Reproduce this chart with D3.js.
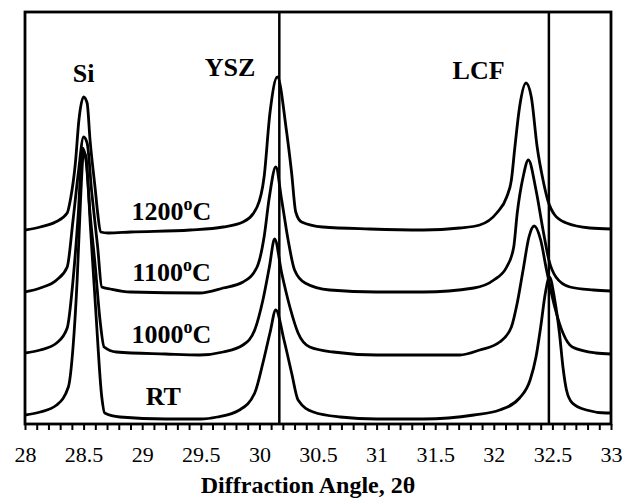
<!DOCTYPE html>
<html>
<head>
<meta charset="utf-8">
<script src="https://cdn.jsdelivr.net/npm/d3@7"></script>
<style>
  body { margin: 0; background: #fff; }
  text { font-family: "Liberation Serif", "Times New Roman", serif; }
</style>
</head>
<body>
<script>
// XRD patterns, [2theta, intensity (a.u.)]
var rtData = [[28.00,9],[28.13,12],[28.27,19],[28.37,37],[28.41,77],[28.445,144],[28.475,227],[28.50,272],[28.52,267],[28.56,194],[28.605,111],[28.655,27],[28.68,11],[28.81,7],[29.2,5],[29.5,5],[29.64,7],[29.83,14],[29.96,31],[30.03,61],[30.09,91],[30.14,114],[30.21,84],[30.275,51],[30.33,24],[30.46,12],[30.69,7],[31.0,5],[31.4,5],[31.83,9],[32.05,14],[32.22,26],[32.31,44],[32.36,67],[32.40,97],[32.44,131],[32.475,147],[32.52,124],[32.56,91],[32.59,57],[32.62,34],[32.67,21],[32.79,14],[32.96,11],[33.0,11]];
var t1000Data = [[28.00,71],[28.13,74],[28.27,81],[28.36,96],[28.41,144],[28.455,211],[28.49,276],[28.52,264],[28.555,211],[28.60,157],[28.64,104],[28.675,77],[28.78,72],[29.2,70],[29.49,69],[29.69,72],[29.86,79],[29.96,94],[30.03,124],[30.085,157],[30.13,185],[30.19,151],[30.26,117],[30.33,91],[30.43,77],[30.63,72],[31.0,69],[31.4,69],[31.71,69],[31.88,74],[32.05,82],[32.15,97],[32.20,121],[32.25,154],[32.30,187],[32.345,198],[32.40,184],[32.45,154],[32.52,117],[32.59,91],[32.67,77],[32.87,71],[33.0,70]];
var t1100Data = [[28.00,132],[28.13,136],[28.27,144],[28.36,157],[28.41,204],[28.455,251],[28.50,287],[28.53,281],[28.57,231],[28.62,177],[28.655,137],[28.73,135],[28.90,132],[29.49,131],[29.69,136],[29.86,142],[29.98,157],[30.04,187],[30.085,227],[30.14,257],[30.19,224],[30.245,184],[30.30,154],[30.39,141],[30.60,134],[31.0,132],[31.4,132],[31.83,136],[32.00,144],[32.11,157],[32.17,177],[32.20,211],[32.25,247],[32.295,264],[32.36,234],[32.42,194],[32.47,164],[32.53,147],[32.65,137],[32.85,134],[33.0,133]];
var t1200Data = [[28.00,194],[28.13,197],[28.26,202],[28.36,211],[28.39,226],[28.43,261],[28.46,304],[28.50,327],[28.53,321],[28.555,284],[28.60,234],[28.62,211],[28.645,192],[28.71,191],[28.90,192],[29.41,194],[29.69,197],[29.86,202],[29.98,217],[30.04,247],[30.09,311],[30.153,347],[30.23,294],[30.275,251],[30.31,212],[30.36,202],[30.54,197],[30.94,195],[31.4,194],[31.71,196],[31.88,199],[32.025,211],[32.11,227],[32.15,244],[32.18,277],[32.22,317],[32.275,341],[32.32,327],[32.37,277],[32.42,244],[32.46,224],[32.52,209],[32.62,201],[32.82,196],[33.0,195]];

// reference lines (2theta)
var refLines = [30.17, 32.47];

// annotations: [text, 2theta, intensity]
var phaseLabels = [["Si", 28.5, 342], ["YSZ", 29.75, 348], ["LCF", 31.87, 345]];
var tempLabels = [["1200", 29.25, 204], ["1100", 29.25, 143], ["1000", 29.25, 81]];
var rtLabel = ["RT", 29.18, 19];

var xTicks = [28, 28.5, 29, 29.5, 30, 30.5, 31, 31.5, 32, 32.5, 33];
var xTitle = "Diffraction Angle, 2\u03b8";

var serif = "'Liberation Serif', 'Times New Roman', serif";
var width = 633, height = 501;
var margin = {top: 12, right: 22, bottom: 77, left: 25};
var iw = width - margin.left - margin.right;
var ih = height - margin.top - margin.bottom;

var svg = d3.select("body").append("svg")
  .attr("width", width)
  .attr("height", height);

var g = svg.append("g")
  .attr("transform", "translate(" + margin.left + "," + margin.top + ")");

var x = d3.scaleLinear().domain([28, 33]).range([0, iw]);
var y = d3.scaleLinear().domain([0, 412]).range([ih, 0]);

svg.append("defs").append("clipPath").attr("id", "clip")
  .append("rect").attr("width", iw).attr("height", ih);

// minor ticks every 0.1
var minor = d3.range(0, 51).map(function(i){ return 28 + i * 0.1; });
var xAxis = d3.axisBottom(x).tickValues(minor).tickSize(6).tickFormat("");
var axg = g.append("g").attr("transform", "translate(0," + ih + ")").call(xAxis);
axg.select(".domain").remove();
axg.selectAll("line").attr("stroke", "#000").attr("stroke-width", 2);

var labAxis = d3.axisBottom(x).tickValues(xTicks).tickSize(0).tickPadding(22)
  .tickFormat(function(d){ return String(d); });
var lg = g.append("g").attr("transform", "translate(0," + ih + ")").call(labAxis);
lg.select(".domain").remove();
lg.selectAll("text")
  .style("font-family", serif)
  .style("font-size", "22px")
  .attr("fill", "#000");

// vertical reference lines
g.selectAll(".ref").data(refLines).enter().append("line")
  .attr("class", "ref")
  .attr("x1", function(d){ return x(d); })
  .attr("x2", function(d){ return x(d); })
  .attr("y1", 0).attr("y2", ih)
  .attr("stroke", "#000").attr("stroke-width", 2.5);

var line = d3.line()
  .x(function(d){ return x(d[0]); })
  .y(function(d){ return y(d[1]); })
  .curve(d3.curveMonotoneX);

var series = [rtData, t1000Data, t1100Data, t1200Data];
g.append("g").attr("clip-path", "url(#clip)")
  .selectAll("path").data(series).enter().append("path")
  .attr("d", line)
  .attr("fill", "none")
  .attr("stroke", "#000")
  .attr("stroke-width", 2.8)
  .attr("stroke-linejoin", "round");

// frame
g.append("rect")
  .attr("width", iw).attr("height", ih)
  .attr("fill", "none").attr("stroke", "#000").attr("stroke-width", 2.8);

// labels
g.selectAll(".phase").data(phaseLabels).enter().append("text")
  .attr("x", function(d){ return x(d[1]); })
  .attr("y", function(d){ return y(d[2]); })
  .attr("text-anchor", "middle")
  .style("font-family", serif)
  .attr("font-size", 26).attr("font-weight", "bold")
  .text(function(d){ return d[0]; });

var tl = g.selectAll(".temp").data(tempLabels).enter().append("text")
  .attr("x", function(d){ return x(d[1]); })
  .attr("y", function(d){ return y(d[2]); })
  .attr("text-anchor", "middle")
  .style("font-family", serif)
  .attr("font-size", 26).attr("font-weight", "bold");
tl.append("tspan").text(function(d){ return d[0]; });
tl.append("tspan").attr("dy", -10).attr("font-size", 18).text("o");
tl.append("tspan").attr("dy", 10).text("C");

g.append("text")
  .attr("x", x(rtLabel[1])).attr("y", y(rtLabel[2]))
  .attr("text-anchor", "middle")
  .style("font-family", serif)
  .attr("font-size", 26).attr("font-weight", "bold")
  .text(rtLabel[0]);

svg.append("text")
  .attr("x", 308).attr("y", 493)
  .attr("text-anchor", "middle")
  .style("font-family", serif)
  .attr("font-size", 24).attr("font-weight", "bold")
  .text(xTitle);
</script>
</body>
</html>
